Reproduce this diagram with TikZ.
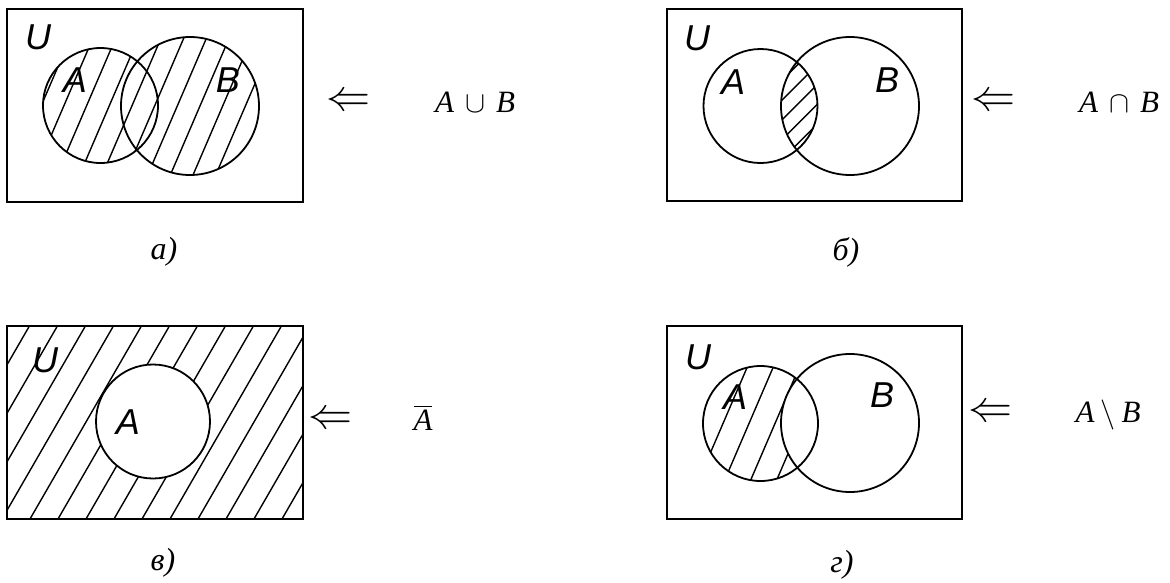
\documentclass[tikz,border=0pt]{standalone}
\usepackage{graphicx}
\usepackage{fontspec}
\newfontfamily\tnr{Liberation Serif}
\newfontfamily\arl{Liberation Sans}
\newcommand{\bigLA}{\scalebox{4.4}{\fontsize{10}{12}\selectfont$\Leftarrow$}}
\newcommand{\bigop}[1]{\scalebox{3}{\fontsize{10}{12}\selectfont$#1$}}
\tikzset{
  frame/.style={line width=1.8pt},
  setc/.style={line width=1.8pt},
  hatch/.style={line width=1.4pt},
  lbl/.style={font=\arl\itshape\fontsize{36}{40}\selectfont, inner sep=0pt},
  arr/.style={inner sep=0pt},
  fml/.style={font=\tnr\itshape\fontsize{31}{36}\selectfont, inner sep=0pt},
  sublbl/.style={font=\tnr\itshape\fontsize{32}{36}\selectfont, inner sep=0pt},
}
\begin{document}
\begin{tikzpicture}[x=1pt,y=-1pt]
\useasboundingbox (0,0) rectangle (1170,582);

% ---------- a) union ----------
\begin{scope}
  \clip (100.5,105.5) circle (57.5) (190,106) circle (69);
  \foreach \k in {-2,...,11} {
    \draw[hatch] ({44+22.7*\k-0.43*48},200) -- ({44+22.7*\k+0.43*132},20);
  }
\end{scope}
\draw[setc] (100.5,105.5) circle (57.5);
\draw[setc] (190,106) circle (69);
\draw[frame] (7,9) rectangle (303,202);
\node[lbl] (ua) at (38,37) {U};
\node[lbl] (aa) at (75,80) {A};
\node[lbl] (ba) at (228,80) {B};
\node[arr] (la) at (348,102) {\bigLA};
\node[fml] (fa) at (475,102) {A\hspace{11pt}\bigop{\cup}\hspace{11pt}B};
\node[sublbl] (ca) at (164,252) {а)};

% ---------- б) intersection ----------
\begin{scope}
  \clip (760.5,106) circle (57);
  \clip (850,106) circle (69);
  \foreach \k in {-2,...,7} {
    \draw[hatch] (760,{79+19.75*\k+23.3}) -- (840,{79+19.75*\k-56.7});
  }
\end{scope}
\draw[setc] (760.5,106) circle (57);
\draw[setc] (850,106) circle (69);
\draw[frame] (667,9) rectangle (962,201);
\node[lbl] (ub) at (697,38) {U};
\node[lbl] (ab) at (733,82) {A};
\node[lbl] (bb) at (887,80) {B};
\node[arr] (lb) at (993,102) {\bigLA};
\node[fml] (fb) at (1119,102) {A\hspace{11pt}\bigop{\cap}\hspace{11pt}B};
\node[sublbl] (cb) at (846,252) {б)};

% ---------- в) complement ----------
\begin{scope}
  \clip (7,326) rectangle (303,519);
  \foreach \k in {-5,...,9} {
    \draw[hatch] ({30+28*\k},519) -- ({30+28*\k+111.4},326);
  }
\end{scope}
\fill[white] (153,421.5) circle (57);
\draw[setc] (153,421.5) circle (57);
\draw[frame] (7,326) rectangle (303,519);
\node[lbl] (uc) at (45,360) {U};
\node[lbl] (ac) at (128,422) {A};
\node[arr] (lc) at (330,420) {\bigLA};
\node[fml] (fc) at (423,418) {\vbox{\hrule height 1.2pt\kern 3pt\hbox{A}}};
\node[sublbl] (cc) at (163,563) {в)};

% ---------- г) difference ----------
\begin{scope}
  \clip (760.5,423.5) circle (57.5);
  \foreach \k in {-3,...,6} {
    \draw[hatch] ({703+26*\k-0.43*40},510) -- ({703+26*\k+0.43*140},330);
  }
\end{scope}
\fill[white] (850,423) circle (69);
\draw[setc] (760.5,423.5) circle (57.5);
\draw[setc] (850,423) circle (69);
\draw[frame] (667,326) rectangle (962,519);
\node[lbl] (ud) at (698,357) {U};
\node[lbl] (ad) at (735,397) {A};
\node[lbl] (bd) at (882,395) {B};
\node[arr] (ld) at (990,413) {\bigLA};
\node[fml] (fd) at (1108,415) {A\hspace{6pt}\bigop{\setminus}\hspace{6pt}B};
\node[sublbl] (cd) at (842,565) {г)};
\end{tikzpicture}
\end{document}
